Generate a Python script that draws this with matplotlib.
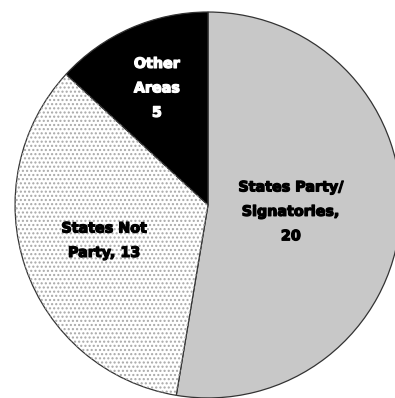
import matplotlib.pyplot as plt
import matplotlib.patches as mpatches
import matplotlib.patheffects as pe
import numpy as np

labels = ['States Party/\nSignatories,\n20', 'States Not\nParty, 13', 'Other\nAreas\n5']
values = [20, 13, 5]
colors = ['#c8c8c8', '#ffffff', '#000000']
text_colors = ['black', 'black', 'white']
label_r = [0.43, 0.57, 0.66]

plt.rcParams['hatch.linewidth'] = 1.0

fig = plt.figure(figsize=(3.95, 3.98), dpi=100)
ax = fig.add_axes([0, 0, 1, 1])

wedges, _ = ax.pie(values, colors=colors, startangle=90, counterclock=False,
                   radius=1.0, wedgeprops=dict(edgecolor='#333333', linewidth=0.9))

# dotted texture on the "not party" slice
w = wedges[1]
dots = mpatches.Wedge(w.center, w.r, w.theta1, w.theta2, facecolor='none',
                      edgecolor='#a8a8a8', linewidth=0, hatch='....')
ax.add_patch(dots)

for wd, lab, tc, r in zip(wedges, labels, text_colors, label_r):
    mid = np.deg2rad((wd.theta1 + wd.theta2) / 2)
    ax.text(r * np.cos(mid), r * np.sin(mid), lab, ha='center', va='center',
            fontsize=10.3, fontweight='heavy', color=tc, linespacing=1.95,
            family='DejaVu Sans',
            path_effects=[pe.withStroke(linewidth=0.9, foreground=tc)])

ax.set_xlim(-1.078, 0.969)
ax.set_ylim(-1.0, 1.062)
ax.axis('off')

fig.savefig('out.png', dpi=100)
